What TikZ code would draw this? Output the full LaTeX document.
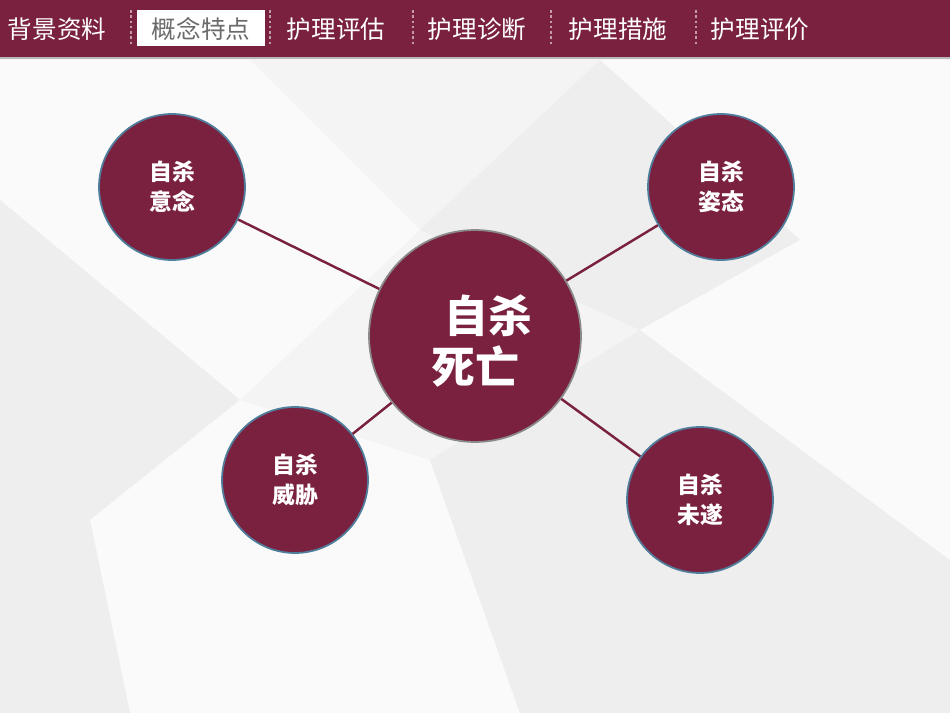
\documentclass[tikz,border=0pt]{standalone}
\usepackage{fontspec}
\setmainfont{Noto Sans CJK SC}
\usepackage{tikz}
\usetikzlibrary{calc,positioning}
\definecolor{wine}{HTML}{7A2140}
\definecolor{rim}{HTML}{4F7E9C}
\definecolor{greyrim}{HTML}{8A8A8A}
\definecolor{tabtext}{HTML}{6B6B6B}
\definecolor{bgA}{HTML}{F4F4F4}
\definecolor{bgB}{HTML}{EEEEEF}
\definecolor{bgC}{HTML}{FAFAFA}
\tikzset{
  tab/.style={text=white, font=\fontsize{14pt}{16pt}\selectfont},
  sep/.style={draw=white!55!wine, line width=0.6pt, dash pattern=on 1.5pt off 1.5pt},
  link/.style={draw=wine, line width=1.4pt},
  bubble/.style={circle, fill=wine, draw=rim, line width=1pt, minimum size=2.92cm,
    text=white, align=center, font=\bfseries\fontsize{13pt}{17pt}\selectfont},
  hub/.style={circle, fill=wine, draw=greyrim, line width=1pt, minimum size=4.24cm,
    text=white, align=center, font=\bfseries\fontsize{25pt}{29pt}\selectfont}
}

\begin{document}
\begin{tikzpicture}[x=0.02cm, y=-0.02cm]
  \useasboundingbox (0,0) rectangle (950,713);
  % background facets
  \fill[bgA] (0,0) rectangle (950,713);
  \fill[bgC] (0,60) -- (250,60) -- (420,230) -- (240,400) -- (0,200) -- cycle;
  \fill[bgB] (0,200) -- (240,400) -- (90,520) -- (0,470) -- cycle;
  \fill[bgC] (600,60) -- (950,60) -- (950,300) -- (800,240) -- cycle;
  \fill[bgB] (420,230) -- (600,60) -- (800,240) -- (640,330) -- cycle;
  \fill[bgC] (90,520) -- (240,400) -- (430,460) -- (520,713) -- (130,713) -- cycle;
  \fill[bgB] (430,460) -- (640,330) -- (950,560) -- (950,713) -- (520,713) -- cycle;
  \fill[bgC] (640,330) -- (800,240) -- (950,300) -- (950,560) -- cycle;
  \fill[bgB] (0,470) -- (90,520) -- (130,713) -- (0,713) -- cycle;

  % header bar
  \fill[wine] (0,0) rectangle (950,57);
  \fill[greyrim!60] (0,57) rectangle (950,59);
  \fill[white] (137,10) rectangle (265,46);

  \node[tab] (t1) at (57,29) {背景资料};
  \node[tab, text=tabtext] (t2) at (201,29) {概念特点};
  \node[tab] (t3) at (336,29) {护理评估};
  \node[tab] (t4) at (477,29) {护理诊断};
  \node[tab] (t5) at (618,29) {护理措施};
  \node[tab] (t6) at (760,29) {护理评价};
  \foreach \x in {131,270,413,551,696}
    \draw[sep] (\x,10) -- (\x,46);

  % circles
  \node[hub] (death) at (475,336) {};
  \node[text=white, align=center, font=\bfseries\fontsize{25pt}{29pt}\selectfont]
    (deathtxt) at (475,341) {\hspace{0.55cm}自杀\\死亡};
  \node[bubble] (ideation) at (172,187) {自杀\\意念};
  \node[bubble] (gesture) at (721,187) {自杀\\姿态};
  \node[bubble] (threat) at (295,480) {自杀\\威胁};
  \node[bubble] (attempt) at (700,500) {自杀\\未遂};

  \draw[link] (death) -- (ideation);
  \draw[link] (death) -- (gesture);
  \draw[link] (death) -- (threat);
  \draw[link] (death) -- (attempt);
\end{tikzpicture}
\end{document}
